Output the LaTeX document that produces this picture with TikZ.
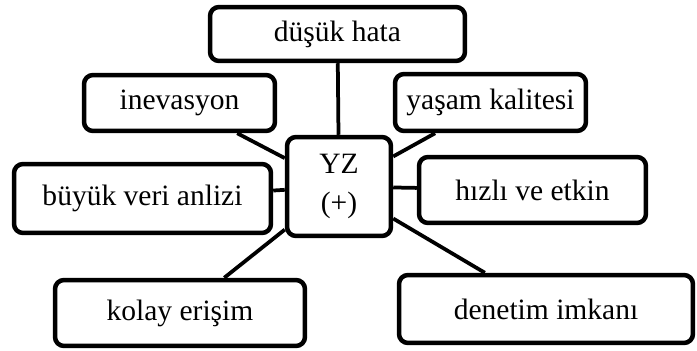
\documentclass[tikz,border=0pt]{standalone}
\usepackage{fontspec}
\setmainfont{Liberation Serif}

\begin{document}
\begin{tikzpicture}[x=0.02cm,y=-0.02cm]

% Box styles
\tikzset{
    box/.style={draw,line width=0.09cm,rounded corners=0.18cm,fill=white,
        inner sep=0pt,align=center,font=\fontsize{16.8}{22.7}\selectfont},
    link/.style={line width=0.075cm}
}

\useasboundingbox (0,0) rectangle (697,351);

% Centre and branches
\node[box,minimum width=2.08cm,minimum height=1.98cm] (yz) at (339,186.5) {YZ\\(+)};
\node[box,minimum width=5.1cm,minimum height=1.08cm] (dusuk) at (337.5,34) {düşük hata};
\node[box,minimum width=3.82cm,minimum height=1.12cm] (inev) at (179.5,103) {inevasyon};
\node[box,minimum width=3.82cm,minimum height=1.14cm] (yasam) at (490.5,102.5) {yaşam kalitesi};
\node[box,minimum width=5.14cm,minimum height=1.38cm] (buyuk) at (142.5,198.5) {büyük veri anlizi};
\node[box,minimum width=4.54cm,minimum height=1.32cm] (hizli) at (532.5,190) {hızlı ve etkin};
\node[box,minimum width=5.0cm,minimum height=1.32cm] (kolay) at (180,313) {kolay erişim};
\node[box,minimum width=5.88cm,minimum height=1.36cm] (denetim) at (546,309) {denetim imkanı};

% Links
\foreach \b in {dusuk,inev,yasam,buyuk,hizli,kolay,denetim}
    \draw[link] (yz) -- (\b);

\end{tikzpicture}
\end{document}
